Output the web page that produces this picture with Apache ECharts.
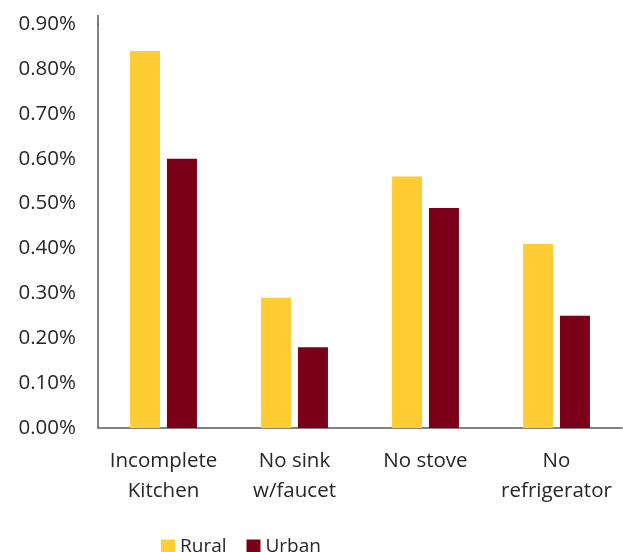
<!DOCTYPE html>
<html><head><meta charset="utf-8">
<script src="https://cdn.jsdelivr.net/npm/echarts@6/dist/echarts.min.js"></script>
<style>html,body{margin:0;padding:0;background:#fff}#c{width:623px;height:552px}</style>
</head><body><div id="c"></div>
<script>
const categories = ['Incomplete\nKitchen', 'No sink\nw/faucet', 'No stove', 'No\nrefrigerator'];
const rural = [0.84, 0.29, 0.56, 0.41];
const urban = [0.60, 0.18, 0.49, 0.25];
const yTicks = [0, 0.1, 0.2, 0.3, 0.4, 0.5, 0.6, 0.7, 0.8, 0.9];
const font = '"Open Sans", Lato, sans-serif';
const chart = echarts.init(document.getElementById('c'));
chart.setOption({
  animation: false,
  grid: {left: 98, right: 1, top: 24, bottom: 124, containLabel: false},
  legend: {
    bottom: -9, left: 156, itemWidth: 14, itemHeight: 14, itemGap: 20,
    icon: 'rect',
    textStyle: {fontFamily: font, fontSize: 19, color: '#262626'},
    data: ['Rural', 'Urban']
  },
  xAxis: {
    type: 'category', data: categories,
    axisLine: {lineStyle: {color: '#595959', width: 1.5}},
    axisTick: {show: false},
    axisLabel: {fontFamily: font, fontSize: 20.5, color: '#262626', margin: 18, lineHeight: 30, interval: 0}
  },
  yAxis: {
    type: 'value', min: yTicks[0], max: yTicks[yTicks.length - 1], interval: 0.1,
    axisLine: {show: true, lineStyle: {color: '#595959', width: 1.5}},
    axisTick: {show: false},
    splitLine: {show: false},
    axisLabel: {fontFamily: font, fontSize: 20.5, color: '#262626', margin: 22,
      formatter: v => v.toFixed(2) + '%'}
  },
  graphic: [{
    type: 'line', shape: {x1: 98, y1: 15, x2: 98, y2: 25},
    style: {stroke: '#595959', lineWidth: 1.5}
  }],
  series: [
    {name: 'Rural', type: 'bar', data: rural, barWidth: 30, barGap: '23%',
     itemStyle: {color: '#FFCC33'}},
    {name: 'Urban', type: 'bar', data: urban, barWidth: 30,
     itemStyle: {color: '#7A0019'}}
  ]
});
</script></body></html>
